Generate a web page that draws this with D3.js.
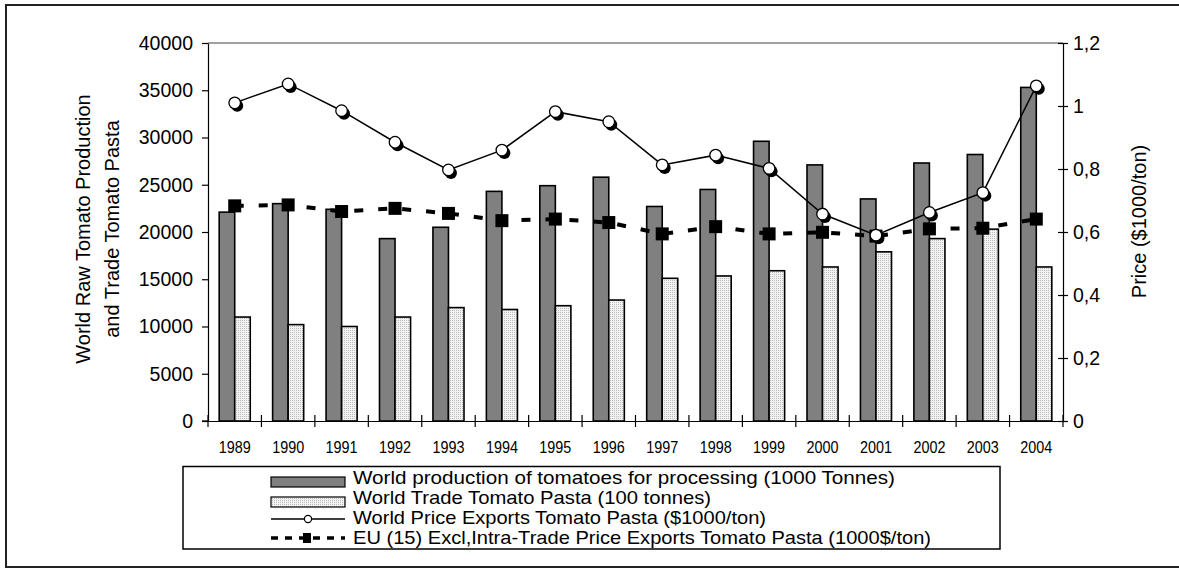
<!DOCTYPE html>
<html>
<head>
<meta charset="utf-8">
<script src="https://cdn.jsdelivr.net/npm/d3@7"></script>
<style>
  html, body { margin: 0; padding: 0; background: #fff; }
  svg { display: block; }
  text { font-family: "Liberation Sans", Arial, Helvetica, sans-serif; fill: #000; }
</style>
</head>
<body>
<svg id="chart" width="1179" height="572"></svg>
<script>
// ---- data ----
const years = ["1989","1990","1991","1992","1993","1994","1995","1996","1997","1998","1999","2000","2001","2002","2003","2004"];
const production = [22100, 23000, 22400, 19300, 20500, 24300, 24900, 25800, 22700, 24500, 29600, 27100, 23500, 27300, 28200, 35300];
const tradePasta = [11000, 10200, 10000, 11000, 12000, 11800, 12200, 12800, 15100, 15350, 15900, 16300, 17900, 19300, 20300, 16300];
const worldPrice = [1.01, 1.07, 0.985, 0.885, 0.797, 0.86, 0.982, 0.95, 0.813, 0.844, 0.802, 0.657, 0.59, 0.662, 0.725, 1.064];
const euPrice = [0.683, 0.686, 0.665, 0.675, 0.659, 0.636, 0.641, 0.63, 0.594, 0.617, 0.594, 0.599, 0.587, 0.61, 0.612, 0.641];
const leftTicks = [0, 5000, 10000, 15000, 20000, 25000, 30000, 35000, 40000];
const rightTicks = [0, 0.2, 0.4, 0.6, 0.8, 1, 1.2];
const rightTickLabels = ["0", "0,2", "0,4", "0,6", "0,8", "1", "1,2"];
const leftTitle = ["World Raw Tomato Production", "and Trade Tomato Pasta"];
const rightTitle = "Price ($1000/ton)";
const legendLabels = [
  "World production of tomatoes for processing (1000 Tonnes)",
  "World Trade Tomato Pasta (100 tonnes)",
  "World Price Exports Tomato Pasta ($1000/ton)",
  "EU (15) Excl,Intra-Trade Price Exports Tomato Pasta (1000$/ton)"
];

// ---- layout ----
const L = 208, R = 1063, T = 43, B = 421;
const svg = d3.select("#chart");

const defs = svg.append("defs");
const pat = defs.append("pattern").attr("id", "dots").attr("width", 2).attr("height", 2)
  .attr("patternUnits", "userSpaceOnUse");
pat.append("rect").attr("width", 2).attr("height", 2).attr("fill", "#f2f2f2");
pat.append("rect").attr("width", 1).attr("height", 1).attr("fill", "#bcbcbc");

// outer frame
svg.append("rect").attr("x", 6).attr("y", 5).attr("width", 1200).attr("height", 562)
  .attr("fill", "none").attr("stroke", "#222").attr("stroke-width", 2);

const x0 = d3.scaleBand().domain(years).range([L, R]).padding(0);
const x1 = d3.scaleBand().domain(["prod", "trade"]).range([0, x0.bandwidth()]).paddingInner(0).paddingOuter(0.72);
const yL = d3.scaleLinear().domain([0, 40000]).range([B, T]);
const yR = d3.scaleLinear().domain([0, 1.2]).range([B, T]);
const cx = d => x0(d) + x0.bandwidth() / 2;

// plot top border (gray)
svg.append("line").attr("x1", L).attr("x2", R).attr("y1", T).attr("y2", T)
  .attr("stroke", "#808080").attr("stroke-width", 1.5);

// bars
const g = svg.append("g");
g.selectAll("rect.prod").data(years).join("rect").attr("class", "prod")
  .attr("x", d => x0(d) + x1("prod")).attr("width", x1.bandwidth())
  .attr("y", (d, i) => yL(production[i])).attr("height", (d, i) => B - yL(production[i]))
  .attr("fill", "#808080").attr("stroke", "#000").attr("stroke-width", 1.6);
g.selectAll("rect.trade").data(years).join("rect").attr("class", "trade")
  .attr("x", d => x0(d) + x1("trade")).attr("width", x1.bandwidth())
  .attr("y", (d, i) => yL(tradePasta[i])).attr("height", (d, i) => B - yL(tradePasta[i]))
  .attr("fill", "url(#dots)").attr("stroke", "#000").attr("stroke-width", 1.6);

// left axis
const axL = svg.append("g").attr("transform", `translate(${L},0)`)
  .call(d3.axisLeft(yL).tickValues(leftTicks).tickSize(6).tickSizeOuter(0).tickPadding(9).tickFormat(d3.format("d")));
axL.select(".domain").attr("stroke", "#000").attr("stroke-width", 1.2);
axL.selectAll(".tick line").attr("stroke", "#000").attr("stroke-width", 1.2);
axL.selectAll(".tick text").style("font-size", "19.5px").style("font-family", "Liberation Sans, Arial, sans-serif").attr("fill", "#000");

// right axis
const axR = svg.append("g").attr("transform", `translate(${R},0)`)
  .call(d3.axisRight(yR).tickValues(rightTicks).tickSize(5).tickSizeOuter(0).tickPadding(5)
    .tickFormat((d, i) => rightTickLabels[i]));
axR.select(".domain").attr("stroke", "#000").attr("stroke-width", 1.2);
axR.selectAll(".tick line").attr("x1", -5).attr("stroke", "#000").attr("stroke-width", 1.2);
axR.selectAll(".tick text").style("font-size", "19.5px").style("font-family", "Liberation Sans, Arial, sans-serif").attr("fill", "#000");

// bottom axis
const axB = svg.append("g").attr("transform", `translate(0,${B})`)
  .call(d3.axisBottom(x0).tickSize(0).tickSizeOuter(0).tickPadding(20));
axB.select(".domain").attr("stroke", "#000").attr("stroke-width", 1.2);
axB.selectAll(".tick text").style("font-size", "17px").style("font-family", "Liberation Sans, Arial, sans-serif")
  .attr("fill", "#000").attr("textLength", 32).attr("lengthAdjust", "spacingAndGlyphs");
const bounds = years.map(d => x0(d)).concat([R]);
svg.append("g").selectAll("line").data(bounds).join("line")
  .attr("x1", d => d).attr("x2", d => d).attr("y1", B - 6).attr("y2", B + 6)
  .attr("stroke", "#000").attr("stroke-width", 1.2);
svg.append("line").attr("x1", L - 6).attr("x2", L).attr("y1", B).attr("y2", B).attr("stroke", "#000").attr("stroke-width", 1.2);

// EU dashed line with squares
const lineEU = d3.line().x((d, i) => cx(years[i])).y(d => yR(d));
svg.append("path").datum(euPrice).attr("d", lineEU).attr("fill", "none")
  .attr("stroke", "#000").attr("stroke-width", 4).attr("stroke-dasharray", "9,15");
svg.append("g").selectAll("rect").data(euPrice).join("rect")
  .attr("x", (d, i) => cx(years[i]) - 6.5).attr("y", d => yR(d) - 6.5)
  .attr("width", 13).attr("height", 13).attr("fill", "#000");

// World price line with circles
const lineW = d3.line().x((d, i) => cx(years[i])).y(d => yR(d));
svg.append("path").datum(worldPrice).attr("d", lineW).attr("fill", "none")
  .attr("stroke", "#000").attr("stroke-width", 1.5);
svg.append("g").selectAll("circle").data(worldPrice).join("circle")
  .attr("cx", (d, i) => cx(years[i]) + 2.5).attr("cy", d => yR(d) + 3).attr("r", 6).attr("fill", "#000");
svg.append("g").selectAll("circle").data(worldPrice).join("circle")
  .attr("cx", (d, i) => cx(years[i])).attr("cy", d => yR(d)).attr("r", 5.8)
  .attr("fill", "#fff").attr("stroke", "#000").attr("stroke-width", 1.3);

// axis titles
const lt = svg.append("text").attr("transform", "translate(90,229) rotate(-90)")
  .attr("text-anchor", "middle").style("font-size", "20px");
lt.append("tspan").attr("x", 0).attr("y", 0).text(leftTitle[0]);
lt.append("tspan").attr("x", 0).attr("y", 29).text(leftTitle[1]);
svg.append("text").attr("transform", "translate(1146,221.5) rotate(-90)")
  .attr("text-anchor", "middle").style("font-size", "20px").text(rightTitle);

// legend
svg.append("rect").attr("x", 183).attr("y", 466.5).attr("width", 817).attr("height", 82.5)
  .attr("fill", "#fff").attr("stroke", "#000").attr("stroke-width", 1.5);
const lg = svg.append("g");
const baseY = [484, 504, 524, 544];
const legendWidths = [542, 358, 413, 578];
lg.append("rect").attr("x", 271).attr("y", 477).attr("width", 74).attr("height", 10)
  .attr("fill", "#808080").attr("stroke", "#000").attr("stroke-width", 1.2);
lg.append("rect").attr("x", 271).attr("y", 497).attr("width", 74).attr("height", 10)
  .attr("fill", "url(#dots)").attr("stroke", "#000").attr("stroke-width", 1.2);
lg.append("line").attr("x1", 271).attr("x2", 345).attr("y1", 519).attr("y2", 519)
  .attr("stroke", "#000").attr("stroke-width", 1.5);
lg.append("circle").attr("cx", 308).attr("cy", 519).attr("r", 3.6)
  .attr("fill", "#fff").attr("stroke", "#000").attr("stroke-width", 1.2);
lg.append("line").attr("x1", 271).attr("x2", 345).attr("y1", 538).attr("y2", 538)
  .attr("stroke", "#000").attr("stroke-width", 3.5).attr("stroke-dasharray", "7,7");
lg.append("rect").attr("x", 303).attr("y", 533).attr("width", 8).attr("height", 10).attr("fill", "#000");
lg.selectAll("text").data(legendLabels).join("text")
  .attr("x", 353).attr("y", (d, i) => baseY[i]).style("font-size", "18.5px")
  .attr("textLength", (d, i) => legendWidths[i]).attr("lengthAdjust", "spacingAndGlyphs")
  .text(d => d);
</script>
</body>
</html>
